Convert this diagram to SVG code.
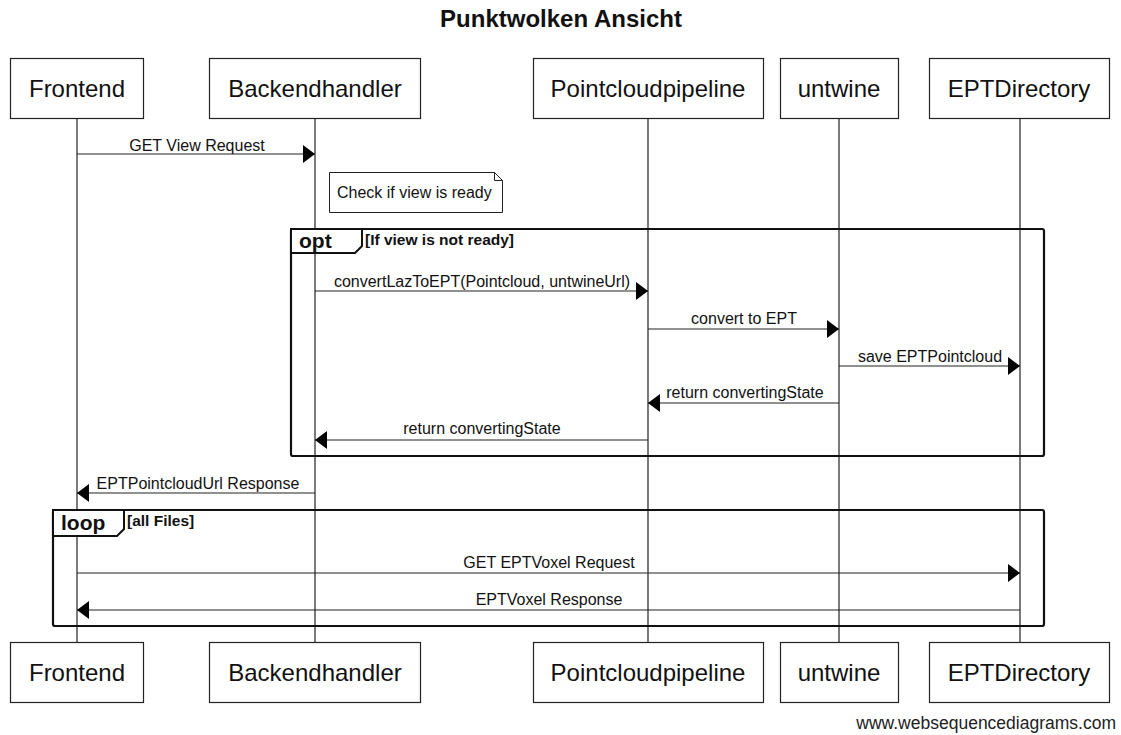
<svg xmlns="http://www.w3.org/2000/svg" width="1121" height="735" viewBox="0 0 1121 735">
  <defs>
    <style>
      text { font-family: "Liberation Sans", Arial, sans-serif; fill: #111; }
      .title { font-size: 24px; font-weight: bold; text-anchor: middle; }
      .actor rect { fill: #fff; stroke: #222; stroke-width: 1.2; }
      .actor text { font-size: 24px; text-anchor: middle; }
      .life { stroke: #222; stroke-width: 1.2; fill: none; }
      .msg { stroke: #222; stroke-width: 1.2; fill: none; }
      .msg.to { marker-end: url(#head); }
      .lbl { font-size: 16px; text-anchor: middle; }
      .frame { fill: none; stroke: #111; stroke-width: 2.2; }
      .tab { fill: #fff; stroke: #111; stroke-width: 2; }
      .tabtxt { font-size: 21px; font-weight: bold; }
      .guard { font-size: 15.5px; font-weight: bold; }
      .note path { fill: #fff; stroke: #222; stroke-width: 1; }
      .note text { font-size: 16px; }
      .footer { font-size: 17.5px; text-anchor: end; fill: #222; }
    </style>
    <marker id="head" markerUnits="userSpaceOnUse" markerWidth="12" markerHeight="18" refX="12" refY="9" orient="auto">
      <path d="M0,0 L12,9 L0,18 z" fill="#000"/>
    </marker>
  </defs>

  <rect width="1121" height="735" fill="#fff"/>

  <text class="title" x="561" y="27">Punktwolken Ansicht</text>

  <!-- lifelines -->
  <g id="lifelines">
    <line class="life" x1="77" y1="118" x2="77" y2="642"/>
    <line class="life" x1="315" y1="118" x2="315" y2="642"/>
    <line class="life" x1="648" y1="118" x2="648" y2="642"/>
    <line class="life" x1="839" y1="118" x2="839" y2="642"/>
    <line class="life" x1="1020" y1="118" x2="1020" y2="642"/>
  </g>

  <!-- participants, head and foot -->
  <g id="frontend" class="actor">
    <rect x="10.5" y="58.5" width="133" height="60"/>
    <text x="77" y="97">Frontend</text>
    <rect x="10.5" y="642.5" width="133" height="60"/>
    <text x="77" y="681">Frontend</text>
  </g>
  <g id="backendhandler" class="actor">
    <rect x="209.5" y="58.5" width="211" height="60"/>
    <text x="315" y="97">Backendhandler</text>
    <rect x="209.5" y="642.5" width="211" height="60"/>
    <text x="315" y="681">Backendhandler</text>
  </g>
  <g id="pointcloudpipeline" class="actor">
    <rect x="533.5" y="58.5" width="230" height="60"/>
    <text x="648" y="97">Pointcloudpipeline</text>
    <rect x="533.5" y="642.5" width="230" height="60"/>
    <text x="648" y="681">Pointcloudpipeline</text>
  </g>
  <g id="untwine" class="actor">
    <rect x="780.5" y="58.5" width="118" height="60"/>
    <text x="839" y="97">untwine</text>
    <rect x="780.5" y="642.5" width="118" height="60"/>
    <text x="839" y="681">untwine</text>
  </g>
  <g id="eptdirectory" class="actor">
    <rect x="929.5" y="58.5" width="180" height="60"/>
    <text x="1019" y="97">EPTDirectory</text>
    <rect x="929.5" y="642.5" width="180" height="60"/>
    <text x="1019" y="681">EPTDirectory</text>
  </g>

  <!-- note -->
  <g id="note-ready" class="note">
    <path d="M329.5,172.5 H494.5 L502.5,180.5 V212.5 H329.5 Z M494.5,172.5 V180.5 H502.5"/>
    <text x="337" y="198">Check if view is ready</text>
  </g>

  <!-- combined fragments -->
  <g id="frame-opt">
    <rect class="frame" x="291" y="229" width="753" height="227" rx="2"/>
    <path class="tab" d="M291,229 H362 V246 L355,253 H291 Z"/>
    <text class="tabtxt" x="299" y="248">opt</text>
    <text class="guard" x="365" y="245">[If view is not ready]</text>
  </g>
  <g id="frame-loop">
    <rect class="frame" x="53" y="510" width="991" height="116" rx="2"/>
    <path class="tab" d="M53,510 H124 V529 L117,536 H53 Z"/>
    <text class="tabtxt" x="61" y="530">loop</text>
    <text class="guard" x="127" y="526">[all Files]</text>
  </g>

  <!-- messages -->
  <g id="connectors">
    <line class="msg to" x1="77" y1="154" x2="315" y2="154"/>
    <text class="lbl" x="197" y="151">GET View Request</text>

    <line class="msg to" x1="315" y1="291" x2="648" y2="291"/>
    <text class="lbl" x="482" y="287">convertLazToEPT(Pointcloud, untwineUrl)</text>

    <line class="msg to" x1="648" y1="329" x2="839" y2="329"/>
    <text class="lbl" x="744" y="324">convert to EPT</text>

    <line class="msg to" x1="839" y1="366" x2="1020" y2="366"/>
    <text class="lbl" x="930" y="362">save EPTPointcloud</text>

    <line class="msg to" x1="839" y1="403" x2="648" y2="403"/>
    <text class="lbl" x="745" y="398">return convertingState</text>

    <line class="msg to" x1="648" y1="440" x2="315" y2="440"/>
    <text class="lbl" x="482" y="434">return convertingState</text>

    <line class="msg to" x1="315" y1="493" x2="77" y2="493"/>
    <text class="lbl" x="198" y="489">EPTPointcloudUrl Response</text>

    <line class="msg to" x1="77" y1="573" x2="1020" y2="573"/>
    <text class="lbl" x="549" y="568">GET EPTVoxel Request</text>

    <line class="msg to" x1="1020" y1="610" x2="77" y2="610"/>
    <text class="lbl" x="549" y="605">EPTVoxel Response</text>
  </g>

  <text class="footer" x="1116" y="729">www.websequencediagrams.com</text>
</svg>
